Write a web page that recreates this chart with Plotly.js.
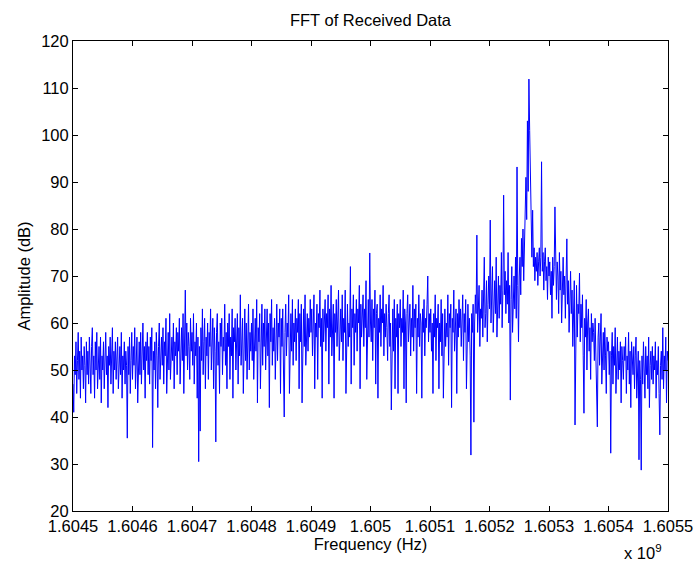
<!DOCTYPE html>
<html>
<head>
<meta charset="utf-8">
<script src="https://cdn.plot.ly/plotly-3.0.1.min.js"></script>
<style>html,body{margin:0;padding:0;background:#fff;}#chart{width:699px;height:562px;}</style>
</head>
<body>
<div id="chart"></div>
<script>
// Frequency grid (x 10^9 Hz): uniform FFT bins
const fStart = 1.6045;
const fStop = 1.6055;

// Amplitude (dB), left to right
const amplitudeDb = [
  47, 41, 53, 49, 56, 45, 52, 58, 48, 54, 44, 57, 50, 53, 46, 55, 51, 43, 56, 49,
  54, 47, 57, 51, 45, 55, 59, 49, 53, 44, 56, 50, 58, 46, 52, 55, 48, 57, 43, 53,
  50, 56, 46, 54, 58, 49, 53, 42, 55, 51, 57, 47, 52, 59, 45, 54, 50, 56, 48, 53,
  57, 46, 52, 55, 49, 58, 44, 53, 50, 56, 47, 54, 51, 35.5, 55, 49, 57, 45, 52, 58,
  48, 55, 51, 59, 46, 54, 57, 43, 52, 56, 49, 58, 47, 53, 60, 50, 55, 44, 56, 52,
  58, 49, 55, 47, 57, 52, 59, 33.5, 54, 50, 56, 46, 58, 53, 42, 55, 60, 48, 54, 57,
  51, 59, 47, 56, 53, 61, 45, 55, 58, 50, 62, 48, 54, 57, 52, 60, 46, 56, 53, 59,
  49, 58, 54, 61, 47, 56, 59, 52, 62, 45, 57, 67, 53, 60, 50, 58, 55, 48, 61, 54,
  58, 51, 62, 47, 56, 53, 60, 44, 57, 30.5, 55, 37, 59, 52, 63, 49, 56, 61, 46, 57,
  53, 60, 48, 58, 55, 63, 50, 57, 61, 46, 59, 54, 34.7, 58, 62, 51, 56, 45, 60, 55,
  61, 49, 57, 54, 64, 51, 58, 46, 60, 55, 62, 48, 57, 53, 63, 44, 59, 56, 61, 50,
  56, 62, 47, 59, 53, 66, 51, 58, 61, 45, 57, 63, 52, 60, 48, 55, 64, 50, 58, 54,
  60, 52, 63, 48, 57, 61, 54, 65, 43, 59, 56, 62, 46, 58, 64, 51, 60, 55, 63, 50,
  57, 63, 53, 60, 42, 62, 56, 65, 51, 59, 54, 61, 48, 58, 64, 52, 60, 57, 63, 45,
  61, 55, 63, 50, 40, 58, 64, 53, 60, 57, 66, 45, 59, 62, 54, 65, 51, 60, 56, 63,
  52, 61, 58, 65, 46, 62, 56, 64, 43, 60, 63, 55, 66, 51, 59, 62, 54, 61, 57, 65,
  58, 63, 53, 61, 66, 46, 60, 57, 64, 48, 62, 59, 67, 55, 61, 44, 63, 56, 60, 65,
  54, 62, 59, 66, 47, 63, 57, 68, 53, 60, 64, 44, 62, 58, 65, 55, 61, 67, 52, 60,
  63, 56, 66, 52, 61, 58, 67, 45, 62, 64, 55, 60, 57, 72, 47, 63, 59, 66, 51, 62,
  58, 65, 54, 63, 60, 68, 46, 64, 57, 61, 66, 55, 63, 59, 69, 48, 62, 65, 57, 74.9,
  60, 56, 65, 52, 63, 59, 67, 47, 62, 64, 44, 61, 58, 66, 55, 63, 60, 68, 53, 62,
  57, 64, 59, 52, 62, 66, 55, 60, 41.5, 58, 63, 54, 65, 46, 61, 57, 64, 45, 62, 59,
  65, 55, 61, 58, 67, 46, 63, 60, 43, 62, 66, 56, 59, 64, 53, 61, 57, 68, 54, 63,
  59, 64, 45, 61, 57, 66, 55, 62, 60, 44, 63, 58, 65, 53, 61, 59, 64, 70, 56, 62,
  58, 63, 54, 60, 45, 62, 57, 66, 52, 61, 59, 64, 46, 60, 56, 65, 53, 62, 44, 59,
  63, 55, 60, 57, 66, 51, 62, 59, 64, 42, 61, 58, 67, 54, 60, 63, 45, 62, 57, 65,
  59, 63, 55, 61, 66, 52, 62, 58, 65, 46, 60, 64, 56, 61, 53, 31.9, 62, 58, 64, 38.9,
  60, 66, 62, 78.7, 58, 64, 68, 55, 63, 61, 67, 57, 65, 74, 59, 62, 69, 56, 64, 70,
  63, 81.9, 60, 67, 72, 58, 65, 69, 62, 74, 57, 66, 70, 61, 68, 64, 75, 59, 67, 87.2,
  66, 71, 62, 69, 64, 75, 60, 68, 43.6, 65, 72, 58, 67, 70, 63, 74, 61, 93.2, 68, 56,
  70, 74, 66, 78, 72, 80, 69, 75, 86, 91, 82, 103, 88, 111.9, 101, 90, 78, 74, 84, 72,
  76, 69, 74, 71, 75, 68, 73, 76, 70, 74, 94.3, 71, 75, 67, 73, 76, 69, 72, 65, 74,
  70, 73, 66, 71, 61, 74, 68, 72, 84.7, 69, 65, 73, 70, 62, 75, 67, 71, 60, 69, 74,
  66, 70, 61, 68, 77.9, 64, 69, 58, 66, 71, 62, 67, 55, 65, 69, 38.3, 63, 68, 57, 64,
  62, 70.6, 56, 64, 59, 66, 53, 40.8, 61, 57, 65, 50, 60, 63, 54, 59, 48, 62, 56, 60,
  58, 52, 61, 55, 49, 37.9, 57, 60, 51, 56, 62, 47, 55, 58, 50, 59, 53, 45, 57, 54,
  56, 49, 54, 32.3, 53, 58, 47, 55, 51, 59, 45, 53, 57, 48, 54, 50, 56, 43, 55, 52,
  48, 55, 52, 57, 45, 53, 50, 58, 47, 54, 42, 56, 51, 49, 55, 46, 53, 57, 44, 52,
  54, 30.9, 52, 48, 28.7, 53, 47, 56, 50, 44, 55, 49, 53, 46, 57, 42, 51, 54, 48, 55,
  47, 53, 50, 56, 44, 52, 49, 55, 45, 36.2, 51, 54, 48, 59, 46, 53, 50, 57, 43, 54,
  52
];

const xTickVals = [1.6045, 1.6046, 1.6047, 1.6048, 1.6049, 1.605, 1.6051, 1.6052, 1.6053, 1.6054, 1.6055];
const xTickText = ["1.6045", "1.6046", "1.6047", "1.6048", "1.6049", "1.605", "1.6051", "1.6052", "1.6053", "1.6054", "1.6055"];

const n = amplitudeDb.length;
const freq = amplitudeDb.map((_, i) => fStart + (fStop - fStart) * i / (n - 1));

const font = "Liberation Sans, Arial, sans-serif";
const fs = 16.5;

const trace = {
  x: freq,
  y: amplitudeDb,
  type: "scatter",
  mode: "lines",
  line: {color: "#0000ff", width: 1},
  hoverinfo: "skip"
};

const layout = {
  width: 699,
  height: 562,
  margin: {l: 73, r: 31, t: 41, b: 51},
  paper_bgcolor: "#ffffff",
  plot_bgcolor: "#ffffff",
  showlegend: false,
  font: {family: font, color: "#000", size: fs},
  title: {
    text: "FFT of Received Data",
    font: {family: font, size: 16.5, color: "#000"},
    x: 0.5, xref: "paper", xanchor: "center",
    y: 1, yref: "paper", yanchor: "bottom", pad: {b: 15}
  },
  xaxis: {
    range: [fStart, fStop],
    tickvals: xTickVals,
    ticktext: xTickText,
    ticks: "inside",
    ticklen: 5,
    tickcolor: "#000",
    showline: true,
    linecolor: "#000",
    linewidth: 1,
    mirror: "ticks",
    showgrid: false,
    zeroline: false,
    tickfont: {family: font, size: fs, color: "#000"},
    title: {text: "Frequency (Hz)", font: {family: font, size: fs, color: "#000"}, standoff: 4}
  },
  yaxis: {
    range: [20, 120],
    dtick: 10,
    tick0: 20,
    ticks: "inside",
    ticklen: 5,
    tickcolor: "#000",
    showline: true,
    linecolor: "#000",
    linewidth: 1,
    mirror: "ticks",
    showgrid: false,
    zeroline: false,
    tickfont: {family: font, size: fs, color: "#000"},
    title: {text: "Amplitude (dB)", font: {family: font, size: fs, color: "#000"}, standoff: 6}
  },
  annotations: [{
    text: "x 10<sup>9</sup>",
    xref: "paper", yref: "paper",
    x: 1.0, y: 0, xanchor: "right", yanchor: "top",
    yshift: -29, xshift: -4,
    showarrow: false,
    font: {family: font, size: fs, color: "#000"}
  }]
};

Plotly.newPlot("chart", [trace], layout, {staticPlot: true, displayModeBar: false});
</script>
</body>
</html>
